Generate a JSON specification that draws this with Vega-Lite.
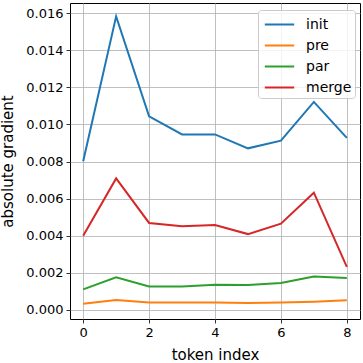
{
  "$schema": "https://vega.github.io/schema/vega-lite/v6.json",
  "width": 290,
  "height": 316,
  "autosize": {"type": "none"},
  "padding": {"left": 70, "top": 3, "right": 3, "bottom": 44},
  "background": "white",
  "config": {
    "font": "DejaVu Sans",
    "view": {"stroke": "black", "strokeWidth": 1},
    "axis": {
      "gridColor": "#b0b0b0",
      "gridWidth": 0.8,
      "gridOpacity": 1,
      "domain": false,
      "tickColor": "black",
      "tickSize": 4,
      "tickWidth": 0.8,
      "labelFont": "DejaVu Sans",
      "labelFontSize": 13,
      "labelColor": "black",
      "titleFont": "DejaVu Sans",
      "titleFontSize": 15,
      "titleFontWeight": "normal",
      "titleColor": "black"
    }
  },
  "data": {
    "values": [
      {"token": 0, "series": "init", "value": 0.00801},
      {"token": 1, "series": "init", "value": 0.01582},
      {"token": 2, "series": "init", "value": 0.01043},
      {"token": 3, "series": "init", "value": 0.00946},
      {"token": 4, "series": "init", "value": 0.00946},
      {"token": 5, "series": "init", "value": 0.00871},
      {"token": 6, "series": "init", "value": 0.00912},
      {"token": 7, "series": "init", "value": 0.01121},
      {"token": 8, "series": "init", "value": 0.00927},
      {"token": 0, "series": "pre", "value": 0.00034},
      {"token": 1, "series": "pre", "value": 0.00054},
      {"token": 2, "series": "pre", "value": 0.00041},
      {"token": 3, "series": "pre", "value": 0.00040},
      {"token": 4, "series": "pre", "value": 0.00040},
      {"token": 5, "series": "pre", "value": 0.00038},
      {"token": 6, "series": "pre", "value": 0.00041},
      {"token": 7, "series": "pre", "value": 0.00045},
      {"token": 8, "series": "pre", "value": 0.00052},
      {"token": 0, "series": "par", "value": 0.00111},
      {"token": 1, "series": "par", "value": 0.00176},
      {"token": 2, "series": "par", "value": 0.00127},
      {"token": 3, "series": "par", "value": 0.00127},
      {"token": 4, "series": "par", "value": 0.00136},
      {"token": 5, "series": "par", "value": 0.00135},
      {"token": 6, "series": "par", "value": 0.00145},
      {"token": 7, "series": "par", "value": 0.00181},
      {"token": 8, "series": "par", "value": 0.00172},
      {"token": 0, "series": "merge", "value": 0.00400},
      {"token": 1, "series": "merge", "value": 0.00709},
      {"token": 2, "series": "merge", "value": 0.00469},
      {"token": 3, "series": "merge", "value": 0.00451},
      {"token": 4, "series": "merge", "value": 0.00458},
      {"token": 5, "series": "merge", "value": 0.00409},
      {"token": 6, "series": "merge", "value": 0.00465},
      {"token": 7, "series": "merge", "value": 0.00632},
      {"token": 8, "series": "merge", "value": 0.00232}
    ]
  },
  "mark": {"type": "line", "strokeWidth": 2, "clip": true},
  "encoding": {
    "x": {
      "field": "token",
      "type": "quantitative",
      "scale": {"domain": [-0.4, 8.4], "nice": false, "zero": false},
      "axis": {"values": [0, 2, 4, 6, 8], "title": "token index", "titlePadding": 8, "labelPadding": 3}
    },
    "y": {
      "field": "value",
      "type": "quantitative",
      "scale": {"domain": [-0.000485, 0.01654], "nice": false, "zero": false},
      "axis": {
        "values": [0, 0.002, 0.004, 0.006, 0.008, 0.01, 0.012, 0.014, 0.016],
        "format": ".3f",
        "title": "absolute gradient",
        "titlePadding": 10,
        "labelPadding": 3
      }
    },
    "color": {
      "field": "series",
      "type": "nominal",
      "sort": ["init", "pre", "par", "merge"],
      "scale": {"domain": ["init", "pre", "par", "merge"], "range": ["#1f77b4", "#ff7f0e", "#2ca02c", "#d62728"]},
      "legend": {
        "title": null,
        "orient": "none",
        "legendX": 188,
        "legendY": 7,
        "symbolType": "M-1.4,0H1.4",
        "symbolSize": 441,
        "symbolStrokeWidth": 2,
        "symbolFillColor": "transparent",
        "symbolOffset": 7,
        "labelFontSize": 14,
        "labelFont": "DejaVu Sans",
        "labelColor": "black",
        "labelOffset": 15,
        "rowPadding": 2,
        "fillColor": "rgba(255,255,255,0.8)",
        "strokeColor": "#cccccc",
        "cornerRadius": 3,
        "padding": 3
      }
    }
  }
}
